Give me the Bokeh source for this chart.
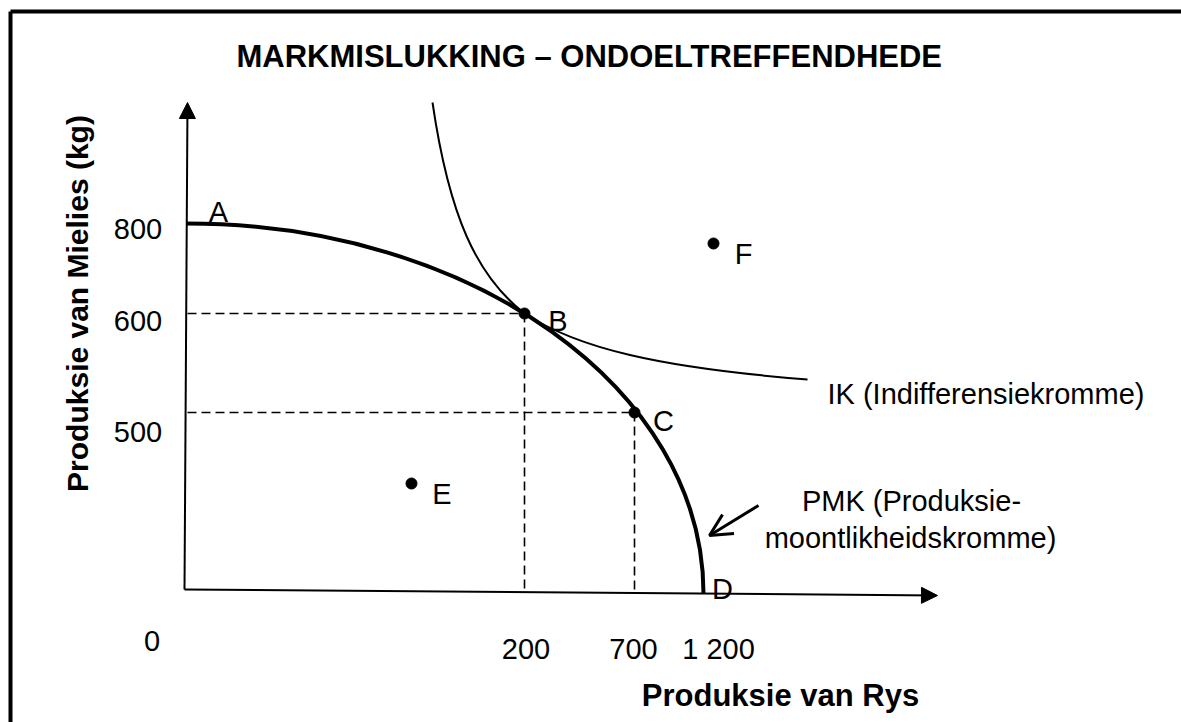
import numpy as np
from bokeh.plotting import figure
from bokeh.models import Range1d, Arrow, NormalHead, OpenHead
from bokeh.core.properties import value
from bokeh.embed import file_html
from bokeh.resources import INLINE

# ---------------- chart content ----------------
TITLE = "MARKMISLUKKING – ONDOELTREFFENDHEDE"
X_LABEL = "Produksie van Rys"
Y_LABEL = "Produksie van Mielies (kg)"
IK_LABEL = "IK (Indifferensiekromme)"
PMK_LABEL = ["PMK (Produksie-", "moontlikheidskromme)"]

# schematic (not-to-scale) axes: economic value -> position on the drawing
rys_values = [0, 200, 700, 1200]
rys_labels = ["0", "200", "700", "1 200"]
mielies_values = [0, 500, 600, 800]
mielies_labels = ["500", "600", "800"]

# drawing positions of those values (page pixels, y downward)
rys_pos = [186, 524, 634, 703]
mielies_pos = [591, 412, 313, 223]


def X(v):
    return float(np.interp(v, rys_values, rys_pos))


def Y(v):
    return float(np.interp(v, mielies_values, mielies_pos))


# named points on the PPF (Rys, Mielies)
ppf_names = ["A", "B", "C", "D"]
ppf_rys = [0, 200, 700, 1200]
ppf_mielies = [800, 600, 500, 0]

# points off the curve (drawing positions)
off_names = ["E", "F"]
off_x = [411, 713]
off_y = [483, 243]

FONT = value("Liberation Sans")
W, H = 1181, 722

p = figure(width=W, height=H, output_backend="svg", toolbar_location=None,
           x_range=Range1d(0, W), y_range=Range1d(H, 0),
           x_axis_type=None, y_axis_type=None, min_border=0)
p.grid.visible = False
p.outline_line_color = None
p.background_fill_color = "white"
p.border_fill_color = "white"

# frame (only top & left visible in window)
p.line(x=[10, 10], y=[11, H + 40], line_width=4, line_color="black")
p.line(x=[10, W + 40], y=[11, 11], line_width=4, line_color="black")

# title
p.text(x=[236], y=[56], text=[TITLE], text_font=FONT, text_font_style="bold",
       text_font_size="31px", text_align="left", text_baseline="alphabetic", text_color="black")

# axes with arrowheads
origin = (184, 589)
p.add_layout(Arrow(x_start=origin[0], y_start=origin[1], x_end=187, y_end=102,
                   line_width=2, line_color="black",
                   end=NormalHead(size=16, fill_color="black", line_color="black", line_width=1)))
p.add_layout(Arrow(x_start=origin[0], y_start=origin[1], x_end=937, y_end=595,
                   line_width=2, line_color="black",
                   end=NormalHead(size=16, fill_color="black", line_color="black", line_width=1)))

# dashed guide lines to B and C
bx, by = X(200), Y(600)
cx, cy = X(700), Y(500)
p.multi_line(xs=[[187, bx], [bx, bx], [187, cx], [cx, cx]],
             ys=[[by, by], [by, Y(0)], [cy, cy], [cy, Y(0) + 2]],
             line_dash="9 5", line_width=1.6, line_color="black")

# PPF: quarter ellipse from A to D (cubic bezier)
ax, ay = X(0), Y(800)
dx, dy = X(1200), Y(0) + 2
k = 0.5523
p.bezier(x0=[ax], y0=[ay], x1=[dx], y1=[dy],
         cx0=[ax + k * (dx - ax)], cy0=[ay], cx1=[dx], cy1=[dy - k * (dy - ay)],
         line_width=4, line_color="black")

# Indifference curve through B (two bezier pieces)
p.bezier(x0=[432, bx], y0=[102, by], x1=[bx, 807], y1=[by, 379],
         cx0=[448.6, 576.7], cy0=[215.2, 347.6], cx1=[475.7, 658.2], cy1=[275.2, 367.1],
         line_width=2, line_color="black")

# dots
p.scatter(x=[bx, cx] + off_x, y=[by, cy] + off_y, size=11, color="black")

# point labels
lab_x = [218, 557.5, 663, 722, 441.5, 743]
lab_y = [211, 320, 420, 588, 493, 253]
p.text(x=lab_x, y=lab_y, text=ppf_names + off_names, text_font=FONT, text_font_size="29px",
       text_align="center", text_baseline="alphabetic", text_color="black")

# axis tick labels
p.text(x=[137.5, 137.5, 137.5], y=[431, 320, 228], text=mielies_labels, text_font=FONT,
       text_font_size="29px", text_align="center", text_baseline="alphabetic", text_color="black")
p.text(x=[151.5, 525.5, 633, 718], y=[640, 648, 648, 648], text=rys_labels, text_font=FONT,
       text_font_size="29px", text_align="center", text_baseline="alphabetic", text_color="black")

# axis titles
p.text(x=[780], y=[695], text=[X_LABEL], text_font=FONT, text_font_style="bold",
       text_font_size="31px", text_align="center", text_baseline="alphabetic", text_color="black")
p.text(x=[77], y=[303], text=[Y_LABEL], text_font=FONT, text_font_style="bold", angle=np.pi / 2,
       text_font_size="30px", text_align="center", text_baseline="alphabetic", text_color="black")

# curve labels
p.text(x=[827], y=[393], text=[IK_LABEL], text_font=FONT, text_font_size="29px",
       text_align="left", text_baseline="alphabetic", text_color="black")
p.text(x=[911, 910], y=[500, 537], text=PMK_LABEL, text_font=FONT, text_font_size="29px",
       text_align="center", text_baseline="alphabetic", text_color="black")
p.add_layout(Arrow(x_start=758, y_start=505, x_end=709, y_end=535, line_width=3, line_color="black",
                   end=OpenHead(size=22, line_width=3, line_color="black")))

open("out.html", "w").write(file_html(p, INLINE))
